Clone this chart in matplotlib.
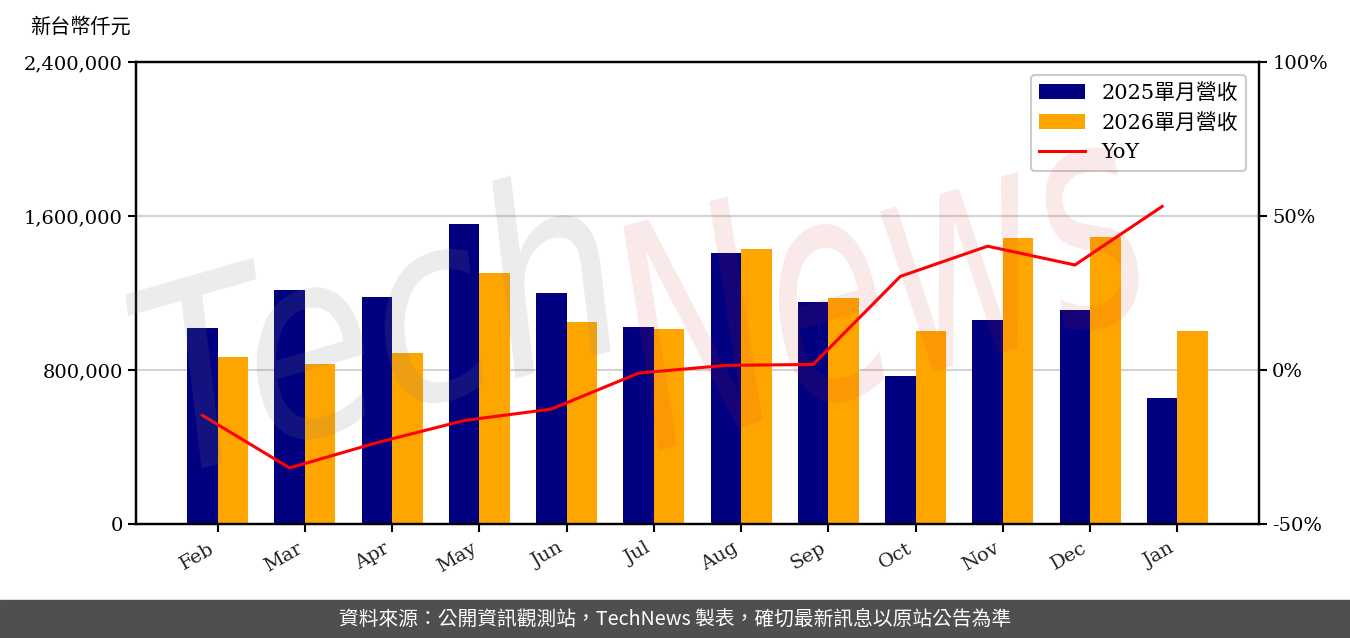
import numpy as np
import matplotlib
matplotlib.use('agg')
import matplotlib.pyplot as plt
from matplotlib.ticker import FuncFormatter
from matplotlib.textpath import TextPath
from matplotlib.patches import PathPatch
from matplotlib.font_manager import FontProperties
from matplotlib.transforms import Affine2D

plt.rcParams['font.family'] = ['DejaVu Serif', 'Noto Sans CJK TC']

# 資料 (新台幣仟元)
months = ['Feb', 'Mar', 'Apr', 'May', 'Jun', 'Jul', 'Aug', 'Sep', 'Oct', 'Nov', 'Dec', 'Jan']
rev_2025 = [1018000, 1215000, 1179000, 1558000, 1200000, 1023000, 1408000, 1153000, 769000, 1060000, 1112000, 655000]
rev_2026 = [868000, 831000, 888000, 1304000, 1049000, 1013000, 1429000, 1174000, 1003000, 1486000, 1491000, 1003000]
yoy = [-14.7, -31.8, -23.6, -16.4, -12.7, -1.0, 1.5, 1.8, 30.4, 40.2, 34.1, 53.1]

W, H = 1350, 638
fig = plt.figure(figsize=(W / 100, H / 100), dpi=100)
ax = fig.add_axes([136 / W, 1 - 524 / H, (1259 - 136) / W, (524 - 62) / H])
ax2 = ax.twinx()

x = np.arange(len(months))
w = 0.35
ax.bar(x, rev_2025, w, color='#000080', label='2025單月營收')
ax.bar(x + w, rev_2026, w, color='#ffa500', label='2026單月營收')
ax2.plot(x, yoy, color='red', linewidth=2.2, label='YoY')

ax.set_ylim(0, 2400000)
ax.set_yticks([0, 800000, 1600000, 2400000])
ax.yaxis.set_major_formatter(FuncFormatter(lambda v, p: f'{v:,.0f}'))
ax2.set_ylim(-50, 100)
ax2.set_yticks([-50, 0, 50, 100])
ax2.yaxis.set_major_formatter(FuncFormatter(lambda v, p: f'{v:.0f}%'))

ax.set_xticks(x + w / 2)
ax.set_xticklabels(months, rotation=30, ha='right')

ax.set_axisbelow(True)
ax.yaxis.grid(True, color='#d3d3d3', linewidth=1.5)

for a in (ax, ax2):
    for s in a.spines.values():
        s.set_linewidth(1.6)
    a.tick_params(labelsize=14, length=6, width=1.5, colors='black')
ax.tick_params(axis='x', labelcolor='#222222', pad=5)

h1, l1 = ax.get_legend_handles_labels()
h2, l2 = ax2.get_legend_handles_labels()
leg = ax2.legend(h1 + h2, l1 + l2, loc='upper right', fontsize=15, framealpha=1,
                 edgecolor='#cccccc', borderpad=0.4, labelspacing=0.5, handlelength=2.2,
                 borderaxespad=0.6)
leg.get_frame().set_linewidth(1.5)

fig.text(30 / W, 1 - 27 / H, '新台幣仟元', fontsize=14.5, va='center', ha='left')

# 浮水印
def watermark(txt, x0, y0, wid, hei, color, alpha):
    tp = TextPath((0, 0), txt, size=1, prop=FontProperties(family='DejaVu Sans', style='italic'))
    ext = tp.get_extents()
    tr = Affine2D().translate(-ext.x0, -ext.y0).scale(wid / ext.width, hei / ext.height) \
        .rotate_deg(16).translate(x0, H - y0)
    p = PathPatch(tr.transform_path(tp), facecolor=color, edgecolor='none', alpha=alpha,
                  transform=None, zorder=10)
    fig.add_artist(p)

watermark('Tech', 175, 480, 470, 200, '#808080', 0.15)
watermark('News', 660, 455, 520, 230, '#d03030', 0.1)

# 頁尾
fig.add_artist(plt.Rectangle((0, 0), 1, 38 / H, transform=fig.transFigure, color='#4f4f4f', zorder=0))
fig.text(0.5, 19 / H, '資料來源：公開資訊觀測站，TechNews 製表，確切最新訊息以原站公告為準',
         family=['Noto Sans CJK TC'], color='white', fontsize=14.2, ha='center', va='center')

fig.savefig('out.png', dpi=100)
